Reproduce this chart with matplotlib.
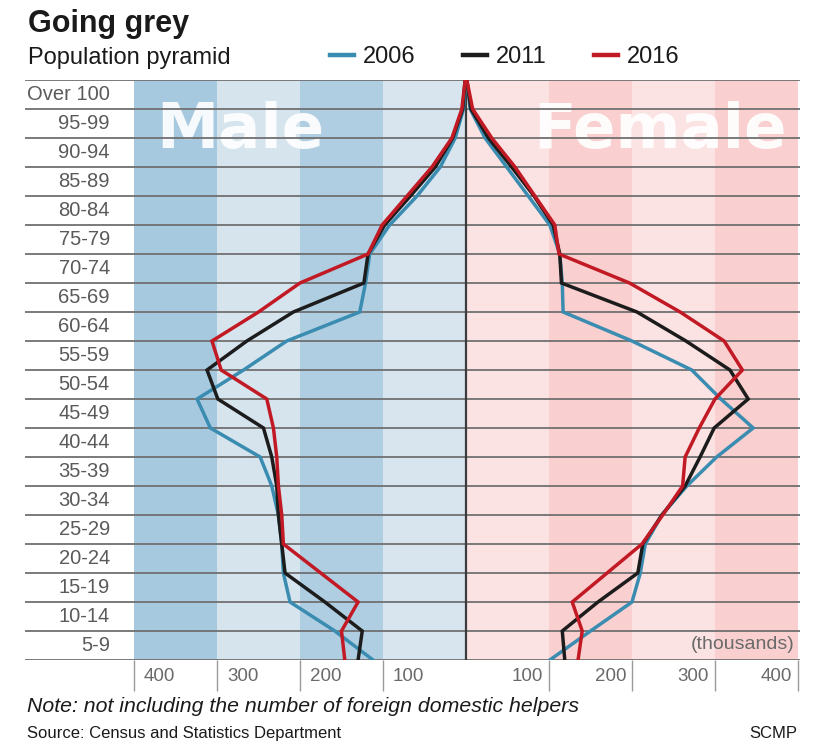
import matplotlib
matplotlib.use("Agg")
import matplotlib.pyplot as plt
from matplotlib.transforms import offset_copy

plt.rcParams["font.family"] = ["Liberation Sans", "DejaVu Sans"]

# Age groups, oldest first; each value sits on the upper edge of its row
age_groups = ["Over 100", "95-99", "90-94", "85-89", "80-84", "75-79", "70-74",
              "65-69", "60-64", "55-59", "50-54", "45-49", "40-44", "35-39",
              "30-34", "25-29", "20-24", "15-19", "10-14", "5-9", "0-4"]

# Population in thousands
male_2006 = [1, 3, 13, 31, 59, 92, 116, 121, 128, 216, 268, 324, 308, 248,
             234, 226, 222, 220, 212, 158, 112]
male_2011 = [1, 4, 16, 37, 67, 98, 118, 123, 208, 264, 312, 299, 244, 234,
             228, 226, 222, 218, 170, 125, 130]
male_2016 = [1, 5, 17, 41, 71, 101, 118, 200, 250, 306, 295, 240, 232, 228,
             226, 222, 220, 175, 130, 150, 146]

female_2006 = [1, 5, 23, 49, 75, 101, 113, 116, 117, 200, 272, 307, 346, 302,
               266, 236, 216, 210, 200, 150, 101]
female_2011 = [1, 6, 27, 55, 82, 105, 113, 115, 206, 265, 318, 340, 299, 282,
               264, 236, 213, 207, 159, 116, 119]
female_2016 = [1, 8, 31, 59, 83, 107, 112, 197, 258, 311, 333, 300, 281, 264,
               261, 237, 212, 170, 128, 140, 135]

years = ["2006", "2011", "2016"]
year_colors = ["#3a8cb0", "#1c1c1c", "#c21a24"]

tick_values = [-400, -300, -200, -100, 100, 200, 300, 400]
tick_labels = ["400", "300", "200", "100", "100", "200", "300", "400"]

fig = plt.figure(figsize=(8.2, 7.46), dpi=100)
ax = fig.add_axes([25 / 820, 86 / 746, 775 / 820, 580 / 746])
ax.set_xlim(-531.3, 402.4)
ax.set_ylim(len(age_groups) - 1, 0)
for s in ax.spines.values():
    s.set_visible(False)
ax.set_yticks([])

# Alternating background bands, blue for men and pink for women
band_cols = {(-400, -300): "#a6c9df", (-300, -200): "#d6e4ee",
             (-200, -100): "#afcee2", (-100, 0): "#d8e5ef",
             (0, 100): "#fce3e3", (100, 200): "#f9cfcf",
             (200, 300): "#fce3e3", (300, 400): "#f9cfcf"}
for (lo, hi), c in band_cols.items():
    ax.axvspan(lo, hi, color=c, zorder=0, lw=0)

ax.text(-272, 1.75, "Male", family="DejaVu Sans", weight="bold", fontsize=45,
        color="white", alpha=0.92, ha="center", va="center", zorder=1)
ax.text(234, 1.75, "Female", family="DejaVu Sans", weight="bold", fontsize=45,
        color="white", alpha=0.92, ha="center", va="center", zorder=1)

# Horizontal row lines
for k in range(len(age_groups)):
    ax.axhline(k, color="#707070", lw=1.3, zorder=2)
ax.axvline(0, color="#3c3c3c", lw=1.6, zorder=2)

ypos = list(range(len(age_groups)))
males = [male_2006, male_2011, male_2016]
females = [female_2006, female_2011, female_2016]
handles = []
for yr, col, m, f in zip(years, year_colors, males, females):
    h, = ax.plot([-v for v in m], ypos, color=col, lw=2.5, zorder=3,
                 solid_joinstyle="miter", label=yr)
    ax.plot(f, ypos, color=col, lw=2.5, zorder=3, solid_joinstyle="miter")
    handles.append(h)

# Age labels centred in each row
for k, lab in enumerate(age_groups[:-1]):
    ax.text(-429, k + 0.5, lab, ha="right", va="center", fontsize=14.5,
            color="#5a5a5a")

# Scale ticks below the chart
ax.set_xticks(tick_values)
ax.set_xticklabels([])
ax.tick_params(axis="x", length=22, width=1, color="#9a9a9a")
xtr = ax.get_xaxis_transform()
for v, lab in zip(tick_values, tick_labels):
    if v < 0:
        tr = offset_copy(xtr, fig=fig, x=10, y=0, units="dots")
        ha = "left"
    else:
        tr = offset_copy(xtr, fig=fig, x=-6, y=0, units="dots")
        ha = "right"
    ax.text(v, -0.028, lab, transform=tr, ha=ha, va="center",
            fontsize=13.5, color="#6a6a6a")

ax.text(396, 19.48, "(thousands)", ha="right", va="center", fontsize=14,
        color="#6a6a6a", zorder=4)

leg = ax.legend(handles=handles, loc="center", bbox_to_anchor=(505 / 820, 1 - 57 / 746),
                bbox_transform=fig.transFigure, ncol=3, frameon=False,
                handlelength=1.0, handletextpad=0.4, columnspacing=2.0,
                fontsize=17)
for t in leg.get_texts():
    t.set_color("#1a1a1a")
for l in leg.get_lines():
    l.set_linewidth(3.2)

fig.text(28 / 820, 1 - 32 / 746, "Going grey", fontsize=22, weight="bold",
         color="#1a1a1a", va="baseline")
fig.text(28 / 820, 1 - 64 / 746, "Population pyramid", fontsize=17,
         color="#1a1a1a", va="baseline")
fig.text(27 / 820, 1 - 712 / 746,
         "Note: not including the number of foreign domestic helpers",
         fontsize=15.3, style="italic", color="#1a1a1a", va="baseline")
fig.text(27 / 820, 1 - 738 / 746, "Source: Census and Statistics Department",
         fontsize=12, color="#1a1a1a", va="baseline")
fig.text(797 / 820, 1 - 738 / 746, "SCMP", fontsize=12, color="#1a1a1a",
         va="baseline", ha="right")

fig.savefig("out.png", dpi=100, facecolor="white")
